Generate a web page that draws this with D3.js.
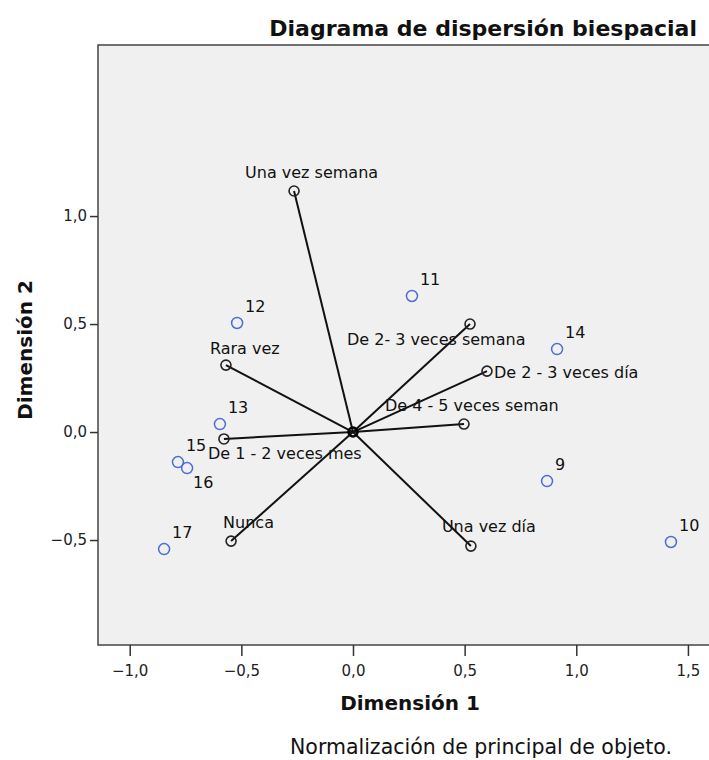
<!DOCTYPE html>
<meta charset="utf-8">
<style>
body { margin: 0; background: #fff; }
text { font-family: "DejaVu Sans", Verdana, sans-serif; fill: #111; }
.tick text { font-size: 15px; fill: #222; }
.lbl { font-size: 16px; }
</style>
<body>
<script src="https://d3js.org/d3.v7.min.js"></script>
<script>

// object points (cases)
var objLabels = ["9", "10", "11", "12", "13", "14", "15", "16", "17"];
var objDim1   = [0.869, 1.424, 0.264, -0.519, -0.596, 0.914, -0.784, -0.743, -0.846];
var objDim2   = [-0.227, -0.509, 0.630, 0.505, 0.037, 0.384, -0.139, -0.167, -0.542];

// category points
var catLabels = ["Una vez semana", "De 2- 3 veces semana", "De 2 - 3 veces día",
                 "De 4 - 5 veces seman", "Rara vez", "De 1 - 2 veces mes",
                 "Nunca", "Una vez día"];
var catDim1   = [-0.264, 0.524, 0.600, 0.497, -0.569, -0.578, -0.546, 0.528];
var catDim2   = [1.116, 0.500, 0.282, 0.037, 0.310, -0.032, -0.505, -0.528];

var xTicks = [-1.0, -0.5, 0.0, 0.5, 1.0, 1.5];
var yTicks = [-0.5, 0.0, 0.5, 1.0];

// label nudges in px (layout only)
var catOffset = {
  "Una vez semana": [-49, -13],
  "De 2- 3 veces semana": [-123, 21],
  "De 2 - 3 veces día": [7, 7],
  "De 4 - 5 veces seman": [-79, -13],
  "Rara vez": [-16, -11],
  "De 1 - 2 veces mes": [-16, 20],
  "Nunca": [-8, -13],
  "Una vez día": [-29, -14]
};
var objOffset = { "16": [6, 20] };

var width = 709, height = 760;
var plot = {left: 98, top: 45, right: 725, bottom: 645};

var x = d3.scaleLinear().domain([-1.142, 1.666]).range([plot.left, plot.right]);
var y = d3.scaleLinear().domain([-0.986, 1.792]).range([plot.bottom, plot.top]);

var loc = d3.formatLocale({decimal: ",", thousands: ".", grouping: [3], currency: ["", ""]});
var fmt = loc.format(".1f");

var svg = d3.select("body").append("svg")
    .attr("width", width)
    .attr("height", height);

// plot frame
svg.append("rect")
    .attr("x", plot.left)
    .attr("y", plot.top)
    .attr("width", plot.right - plot.left)
    .attr("height", plot.bottom - plot.top)
    .attr("fill", "#f0f0f0")
    .attr("stroke", "#444")
    .attr("stroke-width", 1.5);

// axes
var xAxis = svg.append("g")
    .attr("transform", "translate(0," + plot.bottom + ")")
    .call(d3.axisBottom(x).tickValues(xTicks).tickFormat(fmt).tickSize(11).tickPadding(6));
var yAxis = svg.append("g")
    .attr("transform", "translate(" + plot.left + ",0)")
    .call(d3.axisLeft(y).tickValues(yTicks).tickFormat(fmt).tickSize(8).tickPadding(3));
xAxis.select(".domain").remove();
yAxis.select(".domain").remove();
svg.selectAll(".tick line").attr("stroke", "#333").attr("stroke-width", 1.5);
svg.selectAll(".tick text").style("font-family", "DejaVu Sans").attr("fill", "#222");
xAxis.selectAll(".tick text").attr("dy", "0.9em");

// vectors from origin to category points
var cats = catLabels.map(function(d, i) { return {label: d, d1: catDim1[i], d2: catDim2[i]}; });
var objs = objLabels.map(function(d, i) { return {label: d, d1: objDim1[i], d2: objDim2[i]}; });

svg.selectAll(".vec")
    .data(cats)
  .enter().append("line")
    .attr("x1", x(0)).attr("y1", y(0))
    .attr("x2", function(d) { return x(d.d1); })
    .attr("y2", function(d) { return y(d.d2); })
    .attr("stroke", "#111")
    .attr("stroke-width", 2);

// origin marker
svg.append("circle")
    .attr("cx", x(0)).attr("cy", y(0)).attr("r", 4.5)
    .attr("fill", "none").attr("stroke", "#000").attr("stroke-width", 2.5);

svg.selectAll(".cat")
    .data(cats)
  .enter().append("circle")
    .attr("cx", function(d) { return x(d.d1); })
    .attr("cy", function(d) { return y(d.d2); })
    .attr("r", 5)
    .attr("fill", "none")
    .attr("stroke", "#222")
    .attr("stroke-width", 1.6);

svg.selectAll(".catlbl")
    .data(cats)
  .enter().append("text")
    .attr("class", "lbl")
    .attr("x", function(d) { return x(d.d1) + catOffset[d.label][0]; })
    .attr("y", function(d) { return y(d.d2) + catOffset[d.label][1]; })
    .text(function(d) { return d.label; });

svg.selectAll(".obj")
    .data(objs)
  .enter().append("circle")
    .attr("cx", function(d) { return x(d.d1); })
    .attr("cy", function(d) { return y(d.d2); })
    .attr("r", 5.5)
    .attr("fill", "none")
    .attr("stroke", "#4a6cd4")
    .attr("stroke-width", 1.5);

svg.selectAll(".objlbl")
    .data(objs)
  .enter().append("text")
    .attr("class", "lbl")
    .attr("x", function(d) { var o = objOffset[d.label] || [8, -11]; return x(d.d1) + o[0]; })
    .attr("y", function(d) { var o = objOffset[d.label] || [8, -11]; return y(d.d2) + o[1]; })
    .text(function(d) { return d.label; });

// title
svg.append("text")
    .attr("x", 697).attr("y", 36)
    .attr("text-anchor", "end")
    .style("font-size", "22px").style("font-weight", "bold")
    .text("Diagrama de dispersión biespacial");

// axis titles
svg.append("text")
    .attr("x", 410).attr("y", 710)
    .attr("text-anchor", "middle")
    .style("font-size", "20px").style("font-weight", "bold")
    .text("Dimensión 1");

svg.append("text")
    .attr("transform", "translate(32,350) rotate(-90)")
    .attr("text-anchor", "middle")
    .style("font-size", "20px").style("font-weight", "bold")
    .text("Dimensión 2");

// footnote
svg.append("text")
    .attr("x", 290).attr("y", 754)
    .style("font-size", "20.5px")
    .text("Normalización de principal de objeto.");

</script>
</body>
